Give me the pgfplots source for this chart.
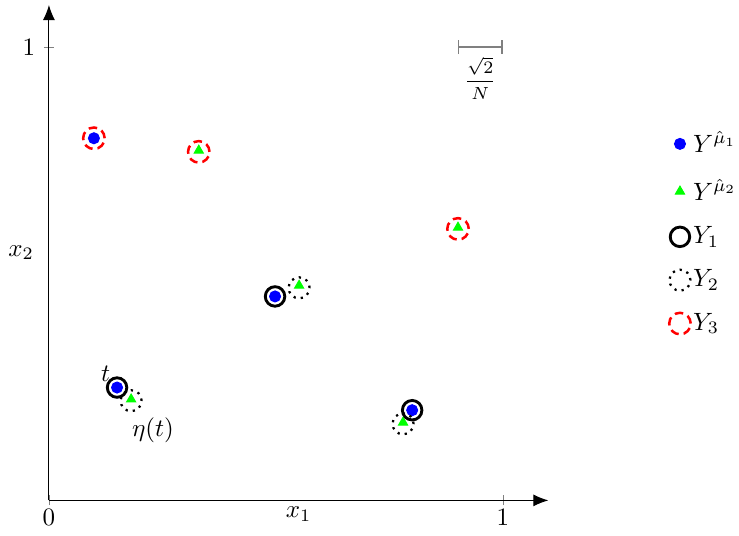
\documentclass[border=0pt]{standalone}
\usepackage{pgfplots}
\pgfplotsset{compat=1.18}
\usetikzlibrary{arrows.meta}
\begin{document}
\begin{tikzpicture}
\begin{axis}[
  scale only axis,
  width=199.6pt, height=198pt,
  xmin=0, xmax=1.1, ymin=0, ymax=1.093,
  axis lines=left,
  axis line style={-{Latex[length=6pt,width=4.8pt]}},
  xtick={0,1}, ytick={1},
  tick align=center,
  major tick length=4pt,
  xticklabel style={yshift=2pt},
  xlabel={$x_1$}, ylabel={$x_2$},
  xlabel style={at={(axis description cs:0.5,0)}, anchor=north, yshift=1pt},
  ylabel style={at={(axis description cs:0,0.5)}, anchor=east, rotate=-90, xshift=-2.5pt},
  legend style={draw=none, fill=none, at={(1.242,0.755)}, anchor=north west, row sep=5pt,
     inner sep=0pt, outer sep=0pt, nodes={inner xsep=1pt}},
  legend cell align=left,
  clip=false,
]
\addplot[only marks, mark=*, mark size=2.2pt, color=blue] coordinates {
 (0.099,0.799) (0.498,0.450) (0.150,0.249) (0.800,0.199)};
\addlegendentry{$Y^{\hat{\mu}_1}$}
\addplot[only marks, mark=triangle*, mark size=2.1pt, color=green] coordinates {
 (0.330,0.772) (0.901,0.602) (0.551,0.474) (0.181,0.223) (0.780,0.172)};
\addlegendentry{$Y^{\hat{\mu}_2}$}
\addplot[only marks, mark=o, mark size=3.9pt, color=black, mark options={line width=1.15pt}] coordinates {
 (0.498,0.450) (0.150,0.249) (0.800,0.199)};
\addlegendentry{$Y_1$}
\addplot[only marks, mark=o, mark size=4.2pt, color=black, mark options={line width=0.9pt, dotted}] coordinates {
 (0.551,0.469) (0.181,0.220) (0.780,0.169)};
\addlegendentry{$Y_2$}
\addplot[only marks, mark=o, mark size=4.3pt, color=red, mark options={line width=1.0pt, dash pattern=on 3.4pt off 2pt}] coordinates {
 (0.099,0.799) (0.330,0.769) (0.901,0.599)};
\addlegendentry{$Y_3$}
\draw[gray, line width=0.6pt, {|[width=5.5pt]}-{|[width=5.5pt]}] (axis cs:0.9,1) -- (axis cs:1,1);
\node[anchor=north, inner sep=1pt, font=\scriptsize] at (axis cs:0.95,0.985) {$\displaystyle\frac{\sqrt{2}}{N}$};
\node at (axis cs:0.125,0.28) {$t$};
\node at (axis cs:0.229,0.155) {$\eta(t)$};
\path (axis cs:0,0) ++(0,-14pt);
\path (axis cs:0,1.093) ++(0,2pt);
\end{axis}
\end{tikzpicture}
\end{document}
